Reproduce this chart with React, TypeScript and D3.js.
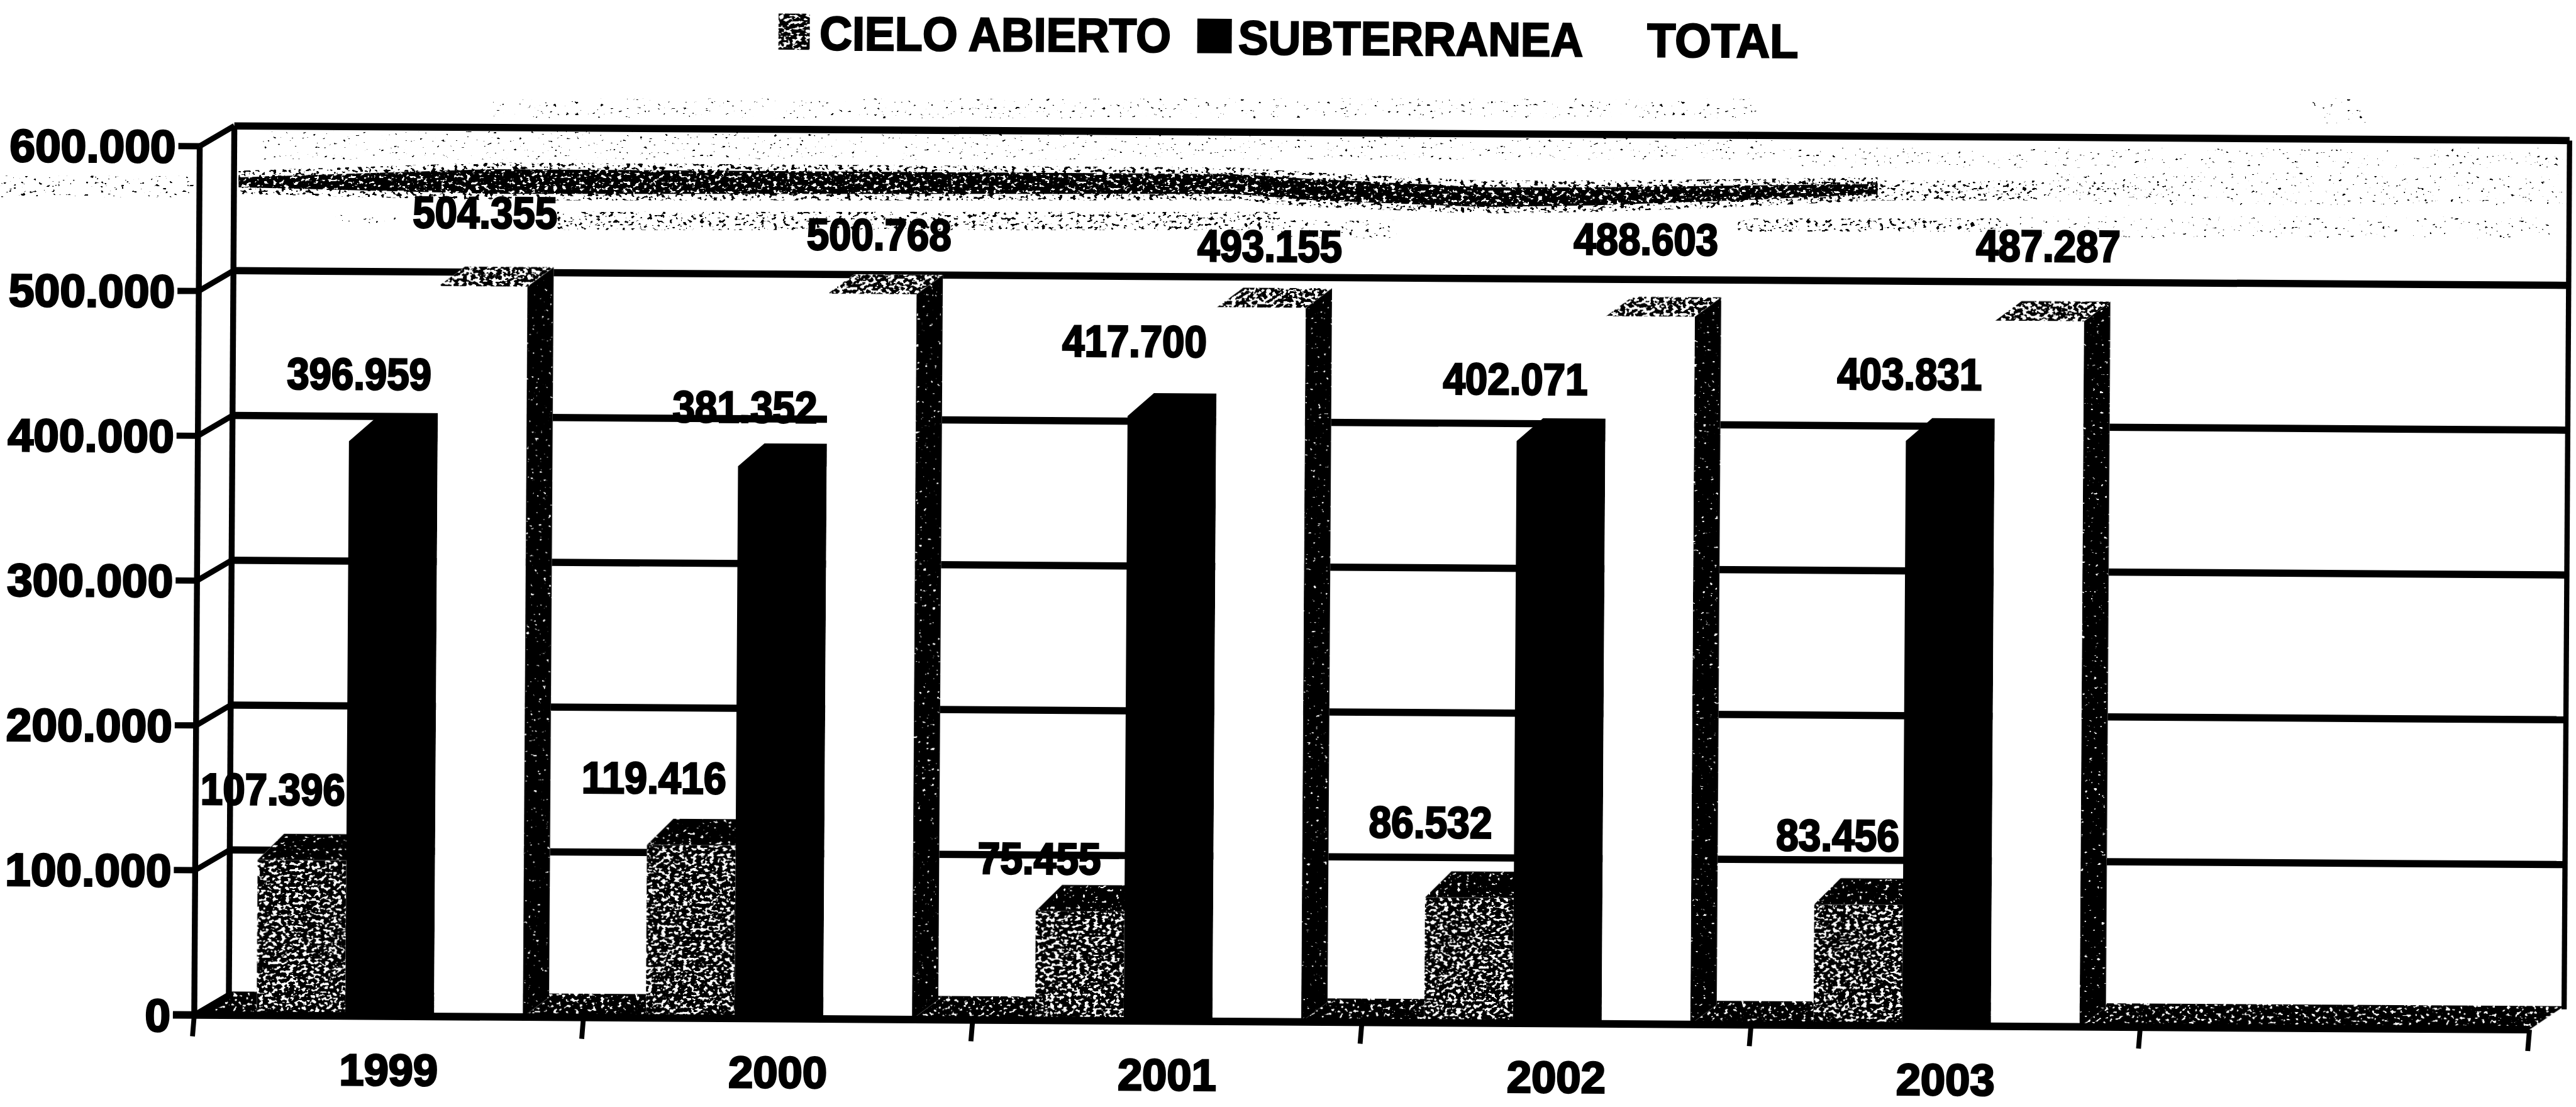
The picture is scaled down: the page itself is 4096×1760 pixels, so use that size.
import React from "react";
import * as d3 from "d3";

const years = ["1999", "2000", "2001", "2002", "2003", ""];
const cieloAbierto = [107396, 119416, 75455, 86532, 83456];
const subterranea = [396959, 381352, 417700, 402071, 403831];
const total = [504355, 500768, 493155, 488603, 487287];
const yTicks = [0, 100000, 200000, 300000, 400000, 500000, 600000];

// hand-placed value-label offsets (centre, from the band start and from the bar's top)
const cieloDx = [47, 42, 40, 41, 52];
const cieloDy = [-43.6, -41.5, -32.6, -46.4, -42.7];
const subDx = [98, 96, 96, 91, 94];
const subDy = [-41.6, -36.7, -46.2, -38.4, -41.4];
const totalDx = [174, 177, 178, 170, 178];
const totalDy = [-45.6, -36.9, -38.1, -47.7, -46.3];

// scanner-noise regions of the source image
const noiseBands: [number, number, number, number, string][] = [
  [0, 107, 118, 13, "sparse"],
  [300, 60, 770, 12, "faint"],
  [1408, 60, 32, 15, "faint"],
  [160, 80, 920, 17, "faint"],
  [1080, 90, 480, 12, "faint"],
  [1250, 105, 310, 20, "faint"],
  [200, 130, 45, 6, "faint"],
  [339, 129, 440, 11, "light"],
  [780, 134, 70, 11, "sparse"],
  [1058, 133, 160, 8, "light"],
  [1220, 132, 335, 13, "faint"],
  [1080, 110, 160, 12, "light"],
  [1233, 110, 90, 10, "sparse"],
];
const smearX = [145, 300, 750, 800, 903, 972, 1058, 1143];
const smearTop = [108, 103, 106, 109, 114, 114, 113, 112];
const smearBottom = [114, 118, 118, 122, 126, 125, 122, 118];

const fmt = d3.formatLocale({ decimal: ",", thousands: ".", grouping: [3], currency: ["", ""] }).format(",");

const X0 = 118, X1 = 1540, Y0 = 618, YTOP = 89;
const WALL_DX = 21, WALL_DY = -12.5;
const BAR_DX = 16;
const BAR_DY: Record<string, number> = { c: 16, s: 14, t: 12 };

const x = d3.scaleBand<string>().domain(years).range([X0, X1]);
const sub = d3.scaleBand<string>().domain(["c", "s", "t"]).range([38, 200]);
const y = d3.scaleLinear().domain([0, 600000]).range([Y0, YTOP]);

const FONT = "'Liberation Sans', Arial, sans-serif";
const DENS: Record<string, number> = { side: 0.24, solid: 0.3, floor: 0.34, stipple: 0.42, cap: 0.46, dense: 0.37, halo: 0.58, light: 0.62, sparse: 0.69, faint: 0.74 };

const poly = (p: number[][]) => p.map((a) => a.join(",")).join(" ");

function Bar({ x0, v, kind }: { x0: number; v: number; kind: string }) {
  const w = sub.bandwidth();
  const t = y(v);
  const b = y(0);
  const dy = BAR_DY[kind];
  const front = [[x0, t], [x0 + w, t], [x0 + w, b], [x0, b]];
  const top = [[x0, t], [x0 + BAR_DX, t - dy], [x0 + w + BAR_DX, t - dy], [x0 + w, t]];
  const side = [[x0 + w, t], [x0 + w + BAR_DX, t - dy], [x0 + w + BAR_DX, b - dy], [x0 + w, b]];
  if (kind === "s") return <polygon points={poly([...top.slice(0, 3), [x0 + w, t], [x0 + w, b], [x0, b]])} fill="#000" />;
  if (kind === "c")
    return (
      <g>
        <polygon points={poly(front)} fill="#fff" />
        <polygon points={poly(top)} fill="#fff" />
        <polygon points={poly(front)} fill="#000" filter="url(#n-stipple)" />
        <polygon points={poly(top)} fill="#000" filter="url(#n-solid)" />
      </g>
    );
  return (
    <g>
      <polygon points={poly(top)} fill="#fff" />
      <polygon points={poly(top)} fill="#000" filter="url(#n-cap)" />
      <polygon points={poly(side)} fill="#fff" />
      <polygon points={poly(side)} fill="#000" filter="url(#n-side)" />
      <polygon points={poly(front)} fill="#fff" />
    </g>
  );
}

function Value({ cx, cy, v }: { cx: number; cy: number; v: number }) {
  const s = fmt(v);
  return (
    <text x={cx} y={cy + 10} textAnchor="middle" fontSize={27} textLength={s.length === 7 ? 88 : 75} lengthAdjust="spacingAndGlyphs" stroke="#000" strokeWidth={1.1}>
      {s}
    </text>
  );
}

export default function App() {
  const smear = d3.area<number>().x((d) => smearX[d]).y0((d) => smearTop[d]).y1((d) => smearBottom[d]).curve(d3.curveLinear)(d3.range(smearX.length)) as string;
  const halo = d3.area<number>().x((d) => smearX[d]).y0((d) => smearTop[d] - 4).y1((d) => smearBottom[d] + 4).curve(d3.curveLinear)(d3.range(smearX.length)) as string;
  const ink = 4.4;
  return (
    <svg width={4096} height={1760} viewBox="0 0 1568 674" style={{ position: "fixed", left: 0, top: 0, background: "#fff" }} fontFamily={FONT} fontWeight="bold">
      <defs>
        {Object.entries(DENS).map(([k, t], i) => (
          <filter key={k} id={`n-${k}`} x="-5%" y="-5%" width="110%" height="110%" colorInterpolationFilters="sRGB">
            <feTurbulence type="fractalNoise" baseFrequency="0.38 0.55" numOctaves={2} seed={i + 3} result="nz" />
            <feColorMatrix in="nz" type="matrix" values={`0 0 0 0 0  0 0 0 0 0  0 0 0 0 0  0 0 0 30 ${-30 * t}`} result="th" />
            <feComposite in="SourceGraphic" in2="th" operator="in" />
          </filter>
        ))}
      </defs>

      {noiseBands.map(([a, b, w, h, d], i) => (
        <rect key={i} x={a} y={b} width={w} height={h} fill="#000" filter={`url(#n-${d})`} />
      ))}
      <path d={halo} fill="#000" filter="url(#n-halo)" />
      <path d={smear} fill="#000" filter="url(#n-dense)" />

      <g transform={`rotate(0.36 ${X0} ${Y0})`}>
        {/* walls and floor */}
        <polygon points={poly([[X0, Y0], [X1, Y0], [X1 + WALL_DX, Y0 + WALL_DY - 2], [X0 + WALL_DX, Y0 + WALL_DY - 2]])} fill="#000" filter="url(#n-floor)" />
        {yTicks.map((v) => (
          <g key={v}>
            <line x1={X0 - 13} x2={X0} y1={y(v)} y2={y(v)} stroke="#000" strokeWidth={3.8} />
            <line x1={X0} x2={X0 + WALL_DX} y1={y(v)} y2={y(v) + WALL_DY} stroke="#000" strokeWidth={3.4} />
            {v > 0 && <line x1={X0 + WALL_DX} x2={X1 + WALL_DX} y1={y(v) + WALL_DY} y2={y(v) + WALL_DY} stroke="#000" strokeWidth={ink} />}
            <text x={X0 - 14.5} y={y(v) + 10} textAnchor="end" fontSize={28} stroke="#000" strokeWidth={1.1}>
              {fmt(v)}
            </text>
          </g>
        ))}
        <line x1={X0} x2={X0} y1={y(600000)} y2={Y0} stroke="#000" strokeWidth={3.6} />
        <line x1={X0 + WALL_DX} x2={X0 + WALL_DX} y1={y(600000) + WALL_DY} y2={Y0 + WALL_DY} stroke="#000" strokeWidth={3.6} />
        <line x1={X1 + WALL_DX} x2={X1 + WALL_DX} y1={y(600000) + WALL_DY} y2={Y0 + WALL_DY} stroke="#000" strokeWidth={3.2} />

        {/* bars */}
        {years.slice(0, 5).map((yr, i) => {
          const bx = x(yr) as number;
          return (
            <g key={yr}>
              <Bar x0={bx + (sub("c") as number)} v={cieloAbierto[i]} kind="c" />
              <Bar x0={bx + (sub("s") as number)} v={subterranea[i]} kind="s" />
              <Bar x0={bx + (sub("t") as number)} v={total[i]} kind="t" />
            </g>
          );
        })}

        {/* front axis */}
        <line x1={X0 - 13} x2={X1} y1={Y0} y2={Y0} stroke="#000" strokeWidth={4.6} />
        {[...years.map((yr) => x(yr) as number), X1].map((px, i) => (
          <line key={i} x1={px} x2={px - 1} y1={Y0} y2={Y0 + 13} stroke="#000" strokeWidth={3} />
        ))}

        {/* value labels */}
        {years.slice(0, 5).map((yr, i) => {
          const bx = x(yr) as number;
          return (
            <g key={yr}>
              <Value cx={bx + cieloDx[i]} cy={y(cieloAbierto[i]) + cieloDy[i]} v={cieloAbierto[i]} />
              <Value cx={bx + subDx[i]} cy={y(subterranea[i]) + subDy[i]} v={subterranea[i]} />
              <Value cx={bx + totalDx[i]} cy={y(total[i]) + totalDy[i]} v={total[i]} />
            </g>
          );
        })}

        {/* category labels */}
        {years.slice(0, 5).map((yr) => (
          <text key={yr} x={(x(yr) as number) + x.bandwidth() / 2} y={660} textAnchor="middle" fontSize={27} stroke="#000" strokeWidth={1.1}>
            {yr}
          </text>
        ))}

        {/* legend */}
        <rect x={470} y={6} width={19} height={22} fill="#000" filter="url(#n-stipple)" />
        <text x={495} y={28} fontSize={29} textLength={214} lengthAdjust="spacingAndGlyphs" stroke="#000" strokeWidth={0.9}>CIELO ABIERTO</text>
        <rect x={725} y={7.5} width={21} height={21} fill="#000" />
        <text x={750} y={29} fontSize={29} textLength={210} lengthAdjust="spacingAndGlyphs" stroke="#000" strokeWidth={0.9}>SUBTERRANEA</text>
        <text x={999} y={29} fontSize={29} textLength={92} lengthAdjust="spacingAndGlyphs" stroke="#000" strokeWidth={0.9}>TOTAL</text>
      </g>
    </svg>
  );
}
